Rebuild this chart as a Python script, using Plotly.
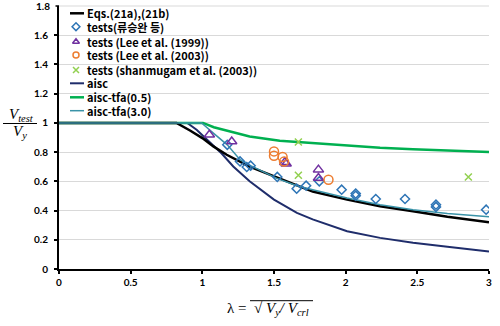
import plotly.graph_objects as go

# ---------------- data ----------------
lam_eq = [0, 0.82, 0.914, 1.0, 1.077, 1.17, 1.33, 1.5, 1.66, 1.77, 2.01, 2.24, 2.47, 2.71, 3.0]
v_eq = [1.0, 1.0, 0.948, 0.896, 0.839, 0.782, 0.70, 0.634, 0.57, 0.53, 0.475, 0.43, 0.395, 0.357, 0.32]

lam_aisc = [0, 0.895, 0.96, 1.03, 1.1, 1.135, 1.216, 1.33, 1.5, 1.66, 1.77, 2.01, 2.24, 2.47, 2.71, 3.0]
v_aisc = [1.0, 1.0, 0.953, 0.889, 0.828, 0.79, 0.702, 0.60, 0.475, 0.384, 0.34, 0.258, 0.213, 0.179, 0.152, 0.12]

lam_tfa05 = [0, 1.005, 1.08, 1.17, 1.33, 1.54, 1.77, 2.01, 2.24, 2.47, 2.71, 3.0]
v_tfa05 = [1.0, 1.0, 0.97, 0.948, 0.907, 0.877, 0.86, 0.843, 0.83, 0.82, 0.81, 0.80]

lam_tfa30 = [0, 0.995, 1.077, 1.174, 1.263, 1.337, 1.52, 1.66, 1.77, 2.01, 2.24, 2.47, 2.71, 3.0]
v_tfa30 = [1.0, 1.0, 0.93, 0.85, 0.748, 0.707, 0.62, 0.57, 0.543, 0.486, 0.44, 0.406, 0.379, 0.357]

lam_ryu = [1.174, 1.263, 1.31, 1.337, 1.523, 1.658, 1.724, 1.816, 1.972, 2.07, 2.07, 2.21, 2.414, 2.63, 2.63, 2.98]
v_ryu = [0.850, 0.736, 0.698, 0.707, 0.630, 0.55, 0.570, 0.60, 0.543, 0.516, 0.502, 0.479, 0.479, 0.44, 0.425, 0.406]

lam_lee99 = [1.049, 1.205, 1.575, 1.585, 1.81, 1.81]
v_lee99 = [0.919, 0.873, 0.73, 0.72, 0.68, 0.623]

lam_lee03 = [1.5, 1.5, 1.56, 1.57, 1.88]
v_lee03 = [0.805, 0.775, 0.766, 0.735, 0.611]

lam_shan = [1.67, 1.67, 2.856]
v_shan = [0.869, 0.641, 0.63]

x_ticks = [0, 0.5, 1, 1.5, 2, 2.5, 3]
x_ticklabels = ["0", "0.5", "1", "1.5", "2", "2.5", "3"]
y_ticks = [0, 0.2, 0.4, 0.6, 0.8, 1.0, 1.2, 1.4, 1.6]
y_ticklabels = ["0", "0.2", "0.4", "0.6", "0.8", "1", "1.2", "1.4", "1.6"]
y_top_tick = 1.8
y_top_label = "1.8"

legend_names = ["Eqs.(21a),(21b)", "tests(류승완 등)", "tests (Lee et al. (1999))",
                "tests (Lee et al. (2003))", "tests (shanmugam et al. (2003))",
                "aisc", "aisc-tfa(0.5)", "aisc-tfa(3.0)"]

# ---------------- styles ----------------
C_EQ = "#000000"
C_AISC = "#1F2D6B"
C_T05 = "#00B050"
C_T30 = "#3A93A8"
C_RYU = "#2E75B6"
C_L99 = "#7030A0"
C_L03 = "#ED7D31"
C_SHA = "#92D050"

fig = go.Figure()

def line(x, y, color, w):
    fig.add_trace(go.Scatter(x=x, y=y, mode="lines", line=dict(color=color, width=w),
                             showlegend=False, hoverinfo="skip"))

def pts(x, y, symbol, color, size, lw=1.5):
    fig.add_trace(go.Scatter(x=x, y=y, mode="markers",
                             marker=dict(symbol=symbol, size=size, color=color,
                                         line=dict(color=color, width=lw)),
                             showlegend=False, hoverinfo="skip"))

line(lam_aisc, v_aisc, C_AISC, 2)
line(lam_tfa05, v_tfa05, C_T05, 2.5)
line(lam_eq, v_eq, C_EQ, 2.5)
line(lam_tfa30, v_tfa30, C_T30, 1.5)
pts(lam_ryu, v_ryu, "diamond-open", C_RYU, 7)
pts(lam_lee99, v_lee99, "triangle-up-open", C_L99, 9)
pts(lam_lee03, v_lee03, "circle-open", C_L03, 9)
pts(lam_shan, v_shan, "x-thin-open", C_SHA, 7)

# ---------------- manual legend on a pixel-unit overlay axis ----------------
Y_TOP = 1.8
L, R, B, T = 59, 489, 269, 6
leg_y = [13.3, 26.7, 41.7, 55, 70, 83.3, 97.3, 110.7]
leg_kind = [("line", C_EQ, 2.5), ("marker", "diamond-open", C_RYU), ("marker", "triangle-up-open", C_L99),
            ("marker", "circle-open", C_L03), ("marker", "x-thin-open", C_SHA),
            ("line", C_AISC, 2), ("line", C_T05, 2.5), ("line", C_T30, 1.5)]
for yy, k in zip(leg_y, leg_kind):
    if k[0] == "line":
        fig.add_trace(go.Scatter(x=[70, 84], y=[yy, yy], mode="lines", xaxis="x2", yaxis="y2",
                                 line=dict(color=k[1], width=k[2]), showlegend=False, hoverinfo="skip"))
    else:
        fig.add_trace(go.Scatter(x=[76], y=[yy], mode="markers", xaxis="x2", yaxis="y2",
                                 marker=dict(symbol=k[1], size=6, color=k[2], line=dict(color=k[2], width=1.5)),
                                 showlegend=False, hoverinfo="skip"))

annotations = []
for yy, name in zip(leg_y, legend_names):
    annotations.append(dict(x=85, y=yy, xref="x2", yref="y2", text=name, showarrow=False,
                            xanchor="left", yanchor="middle",
                            font=dict(family="Noto Sans CJK KR", size=11, color="black", weight="bold")))

def px(xp):
    return (xp - L) / (R - L)

def py(yp):
    return (B - yp) / (B - T)

tickfont = dict(family="Lato", size=10, color="black", weight="bold")

# top tick label of the y axis (drawn explicitly at the top edge of the axis)
annotations.append(dict(x=0, y=y_top_tick / Y_TOP, xref="paper", yref="paper", text=y_top_label,
                        showarrow=False, xanchor="right", yanchor="middle", xshift=-7, font=tickfont))

serif = dict(family="Liberation Serif", size=15, color="black")
annotations.append(dict(x=px(21), y=py(115), xref="paper", yref="paper", showarrow=False,
                        text="<i>V<sub>test</sub></i>", xanchor="center", yanchor="middle", font=serif))
annotations.append(dict(x=px(20), y=py(132), xref="paper", yref="paper", showarrow=False,
                        text="<i>V<sub>y</sub></i>", xanchor="center", yanchor="middle", font=serif))
annotations.append(dict(x=px(268), y=py(309), xref="paper", yref="paper", showarrow=False,
                        text="λ =  √ <i>V<sub>y</sub>/ V<sub>crl</sub></i>", xanchor="center",
                        yanchor="middle", font=serif))

shapes = [
    dict(type="line", xref="paper", yref="paper", x0=0, x1=1, y0=y_top_tick / Y_TOP, y1=y_top_tick / Y_TOP,
         line=dict(color="#D9D9D9", width=1), layer="below"),
    dict(type="line", xref="paper", yref="paper", x0=px(55.5), x1=px(59), y0=y_top_tick / Y_TOP,
         y1=y_top_tick / Y_TOP, line=dict(color="black", width=1.5)),
    dict(type="line", xref="paper", yref="paper", x0=px(3), x1=px(37), y0=py(123.5), y1=py(123.5),
         line=dict(color="black", width=1)),
    dict(type="line", xref="paper", yref="paper", x0=px(250), x1=px(313), y0=py(300.7), y1=py(300.7),
         line=dict(color="black", width=1)),
]

fig.update_layout(
    width=500, height=326,
    margin=dict(l=L, r=500 - R, t=T, b=326 - B, autoexpand=False),
    paper_bgcolor="white", plot_bgcolor="white",
    showlegend=False,
    xaxis=dict(range=[0, 3], tickmode="array", tickvals=x_ticks, ticktext=x_ticklabels,
               showgrid=False, zeroline=False,
               showline=True, linecolor="black", linewidth=2, ticks="outside", ticklen=3,
               tickwidth=1.5, tickcolor="black", tickfont=tickfont, fixedrange=True),
    yaxis=dict(range=[0, Y_TOP], tickmode="array", tickvals=y_ticks, ticktext=y_ticklabels,
               showgrid=True, gridcolor="#D9D9D9", gridwidth=1,
               zeroline=False, showline=True, linecolor="black", linewidth=2, ticks="outside",
               ticklen=3, tickwidth=1.5, tickcolor="black", tickfont=tickfont, ticklabelstandoff=4,
               fixedrange=True),
    xaxis2=dict(range=[L, R], overlaying="x", visible=False, fixedrange=True),
    yaxis2=dict(range=[B, T], overlaying="y", visible=False, fixedrange=True),
    annotations=annotations,
    shapes=shapes,
)

fig.write_html("out.html")
